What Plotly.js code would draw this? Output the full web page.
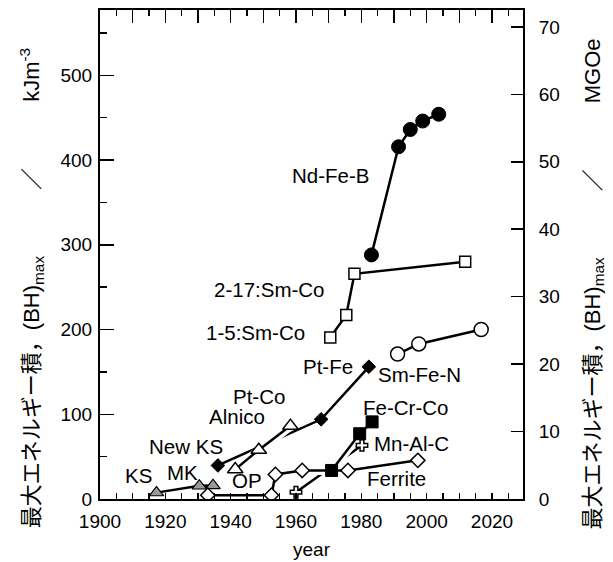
<!DOCTYPE html>
<html>
<head>
<meta charset="utf-8">
<script src="https://cdn.plot.ly/plotly-3.0.1.min.js"></script>
<style>html,body{margin:0;padding:0;background:#fff;}#chart{width:613px;height:562px;}</style>
</head>
<body>
<div id="chart"></div>
<script>
// ---- data (year, (BH)max in kJ/m^3) ----
const ksYears = [1917.3, 1930.4, 1934.6];
const ksVals = [7.5, 15.5, 16];
const ferriteYears = [1933, 1952.5, 1953.7, 1961.9, 1975.9, 1997.3];
const ferriteVals = [4.5, 4.5, 29, 33.7, 33.7, 45.6];
const ptYears = [1936.1, 1967.7, 1982.3];
const ptVals = [39.6, 94, 156];
const alnicoYears = [1941.4, 1948.6, 1958.3];
const alnicoVals = [35, 57.9, 86.3];
const mnalcYears = [1960, 1980.2];
const mnalcVals = [8, 63.3];
const fecrcoYears = [1970.9, 1979.5, 1983.3];
const fecrcoVals = [33.7, 77, 91];
const smcoYears = [1970.5, 1975.4, 1977.9, 2011.8];
const smcoVals = [190.7, 217, 265.7, 280];
const ndfebYears = [1983.1, 1991.4, 1995, 1998.8, 2003.7];
const ndfebVals = [288, 415.6, 436, 446, 454];
const smfenYears = [1991.1, 1997.6, 2016.7];
const smfenVals = [171, 183, 200];

const labelTexts = ['KS', 'MK', 'New KS', 'OP', 'Alnico', 'Pt-Co', 'Pt-Fe', 'Sm-Fe-N', 'Fe-Cr-Co', 'Mn-Al-C', 'Ferrite', 'Nd-Fe-B', '2-17:Sm-Co', '1-5:Sm-Co'];
const labelYears = [1911.9, 1925.4, 1926.4, 1945.0, 1941.8, 1948.6, 1969.8, 1997.8, 1993.5, 1995.5, 1990.7, 1970.6, 1951.9, 1947.6];
const labelVals = [27.8, 31.7, 62.5, 21.9, 97.6, 121.3, 156, 147.3, 107.9, 66, 23.9, 382, 247.6, 196.2];

const yMax = 577;
const MGOE = 7.9577; // kJ/m^3 per MGOe

const FONT = '"Liberation Sans", Arial, "Noto Sans CJK JP", sans-serif';
const CJK = 'Noto Sans CJK JP';
const LW = 2.5;

function lineTrace(x, y, color, width) {
  return {x: x, y: y, type: 'scatter', mode: 'lines', line: {color: color, width: width}, hoverinfo: 'skip', showlegend: false};
}
function markTrace(x, y, symbol, fill, size, lw) {
  return {x: x, y: y, type: 'scatter', mode: 'markers', showlegend: false,
    marker: {symbol: symbol, color: fill, size: size, line: {color: '#000', width: lw}}};
}

const traces = [
  lineTrace(mnalcYears, mnalcVals, '#000', LW),
  lineTrace(ptYears, ptVals, '#000', LW),
  lineTrace(ksYears, ksVals, '#000', LW),
  lineTrace(ferriteYears, ferriteVals, '#fff', 9),
  lineTrace(ferriteYears, ferriteVals, '#000', LW),
  lineTrace(fecrcoYears, fecrcoVals, '#fff', 9),
  lineTrace(fecrcoYears, fecrcoVals, '#000', LW),
  lineTrace(alnicoYears, alnicoVals, '#fff', 9),
  lineTrace(alnicoYears, alnicoVals, '#000', LW),
  lineTrace(smcoYears, smcoVals, '#000', LW),
  lineTrace(ndfebYears, ndfebVals, '#000', LW),
  lineTrace(smfenYears, smfenVals, '#000', LW),
  markTrace(ksYears, ksVals, 'triangle-up', '#999999', 12.5, 1.2),
  markTrace(ptYears, ptVals, 'diamond', '#000', 10.5, 1),
  markTrace(alnicoYears, alnicoVals, 'triangle-up', '#fff', 13.5, 1.5),
  markTrace(mnalcYears, mnalcVals, 'cross', '#fff', 9.5, 1.5),
  markTrace(fecrcoYears, fecrcoVals, 'square', '#000', 12, 1),
  markTrace(ferriteYears, ferriteVals, 'diamond', '#fff', 11, 1.5),
  markTrace(smcoYears, smcoVals, 'square', '#fff', 11, 1.5),
  markTrace(ndfebYears, ndfebVals, 'circle', '#000', 14, 1),
  markTrace(smfenYears, smfenVals, 'circle', '#fff', 14, 1.5)
];

const annotations = labelTexts.map((t, i) => ({
  text: t, x: labelYears[i], y: labelVals[i], xref: 'x', yref: 'y',
  showarrow: false, xanchor: 'center', yanchor: 'middle',
  font: {family: FONT, size: 20.5, color: '#000'}
}));

const titleFont = {family: FONT, size: 22, color: '#000'};
const SP3 = '\u3000\u3000\u3000';
const slash = '<span style="font-family:\'' + CJK + '\'">／</span>';
annotations.push({
  text: '最大エネルギー積，(BH)<sub>max</sub>' + SP3 + slash + SP3 + 'kJm<sup>-3</sup>',
  xref: 'paper', yref: 'paper', x: -0.165, y: 0.4315, textangle: -90,
  showarrow: false, xanchor: 'center', yanchor: 'middle', font: titleFont
});
annotations.push({
  text: '最大エネルギー積，(BH)<sub>max</sub>' + SP3 + slash + SP3 + 'MGOe',
  xref: 'paper', yref: 'paper', x: 1.161, y: 0.4387, textangle: -90,
  showarrow: false, xanchor: 'center', yanchor: 'middle', font: titleFont
});

const tickFont = {family: FONT, size: 19, color: '#000'};
const layout = {
  width: 613, height: 562,
  margin: {l: 100, r: 90, t: 10, b: 63, pad: 0},
  paper_bgcolor: '#fff', plot_bgcolor: '#fff',
  font: {family: FONT, color: '#000'},
  showlegend: false,
  xaxis: {
    range: [1900, 2029.5], tickmode: 'linear', tick0: 1900, dtick: 20,
    ticks: 'inside', ticklen: 6, tickwidth: 1.5, tickcolor: '#000',
    minor: {dtick: 5, ticks: 'inside', ticklen: 6, tickwidth: 1.5, tickcolor: '#000', showgrid: false},
    showline: true, linewidth: 2, linecolor: '#000', showgrid: false, zeroline: false,
    tickfont: tickFont, ticklabelstandoff: 4,
    title: {text: 'year', font: {family: FONT, size: 19, color: '#000'}, standoff: 12}
  },
  xaxis2: {
    overlaying: 'x', side: 'top', range: [1900, 2029.5], tickmode: 'linear', tick0: 1900, dtick: 10,
    ticks: 'inside', ticklen: 13, tickwidth: 1.5, tickcolor: '#000', showticklabels: false,
    minor: {dtick: 5, ticks: 'inside', ticklen: 6, tickwidth: 1.5, tickcolor: '#000', showgrid: false},
    showline: true, linewidth: 2, linecolor: '#000', showgrid: false, zeroline: false
  },
  yaxis: {
    range: [0, yMax], tickmode: 'linear', tick0: 0, dtick: 100,
    ticks: 'inside', ticklen: 14, tickwidth: 1.5, tickcolor: '#000',
    minor: {dtick: 50, ticks: 'inside', ticklen: 7, tickwidth: 1.5, tickcolor: '#000', showgrid: false},
    showline: true, linewidth: 2, linecolor: '#000', showgrid: false, zeroline: false,
    tickfont: tickFont, ticklabelstandoff: 2
  },
  yaxis2: {
    overlaying: 'y', side: 'right', range: [0, yMax / MGOE], tickmode: 'linear', tick0: 0, dtick: 10,
    ticks: 'inside', ticklen: 12, tickwidth: 1.5, tickcolor: '#000',
    showline: true, linewidth: 2, linecolor: '#000', showgrid: false, zeroline: false,
    tickfont: tickFont, ticklabelstandoff: 10
  },
  annotations: annotations
};

// invisible placeholder traces that activate the secondary axes
traces.push({x: [], y: [], xaxis: 'x2', yaxis: 'y', type: 'scatter', mode: 'markers', showlegend: false, hoverinfo: 'skip'});
traces.push({x: [], y: [], xaxis: 'x', yaxis: 'y2', type: 'scatter', mode: 'markers', showlegend: false, hoverinfo: 'skip'});

Plotly.newPlot('chart', traces, layout, {staticPlot: true, displayModeBar: false});
</script>
</body>
</html>
